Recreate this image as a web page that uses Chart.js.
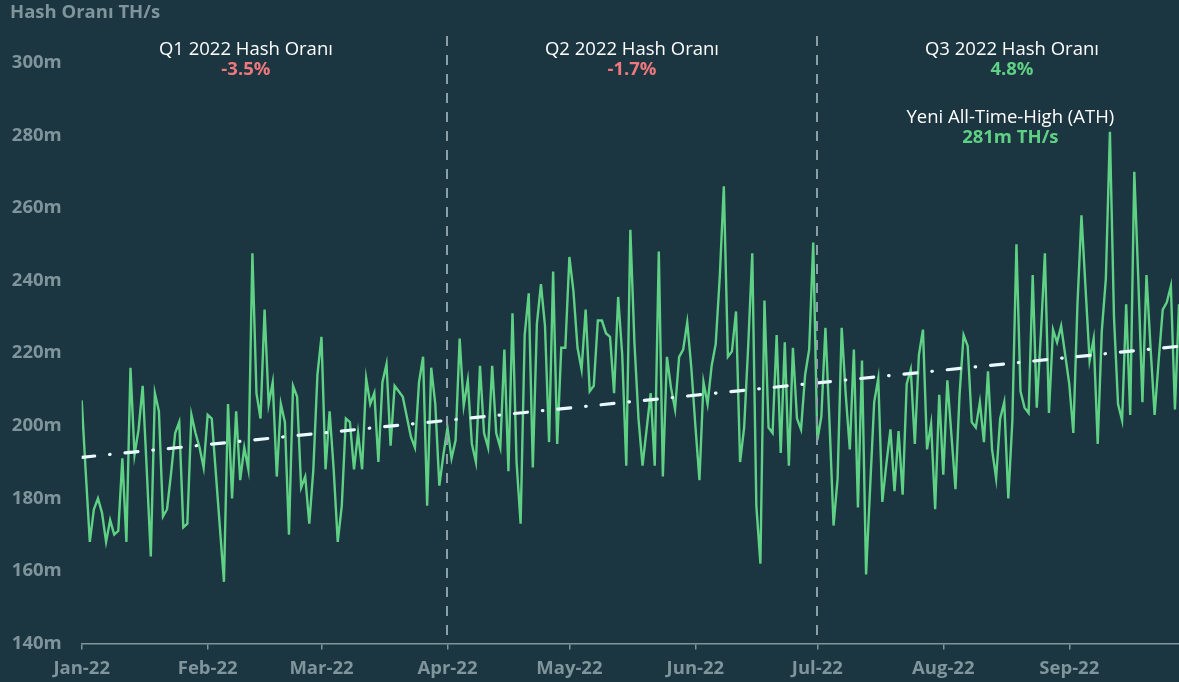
<!DOCTYPE html>
<html>
<head>
<meta charset="utf-8">
<script src="https://cdn.jsdelivr.net/npm/chart.js@4"></script>
<style>
  html, body { margin: 0; padding: 0; background: #1b3541; }
  #wrap { width: 1179px; height: 682px; }
</style>
</head>
<body>
<div id="wrap"><canvas id="chartHash" width="1179" height="682"></canvas></div>
<script>
(function () {
    'use strict';

    // ── Data (daily hash rate, m TH/s, from 1 Jan 2022) ──────────
    const hashRate = [
        207, 187, 168, 177, 180, 176, 168, 174, 170, 171,
        191, 168, 216, 192, 199, 211, 188, 164, 209, 204,
        175, 177, 187, 198, 201, 172, 173, 203, 198, 194,
        188.5, 203, 202, 187, 172, 157, 206, 180, 204, 185,
        194, 188, 247.5, 209, 202, 232, 206, 212, 186, 206,
        201, 170, 211, 208, 183, 186, 173, 188, 214, 224.5,
        188, 204, 188, 168, 178, 202, 201, 188, 198, 188,
        213, 206, 209, 190, 212, 217, 194.5, 211, 209.5, 208,
        202.5, 197, 194, 212, 219, 178, 216, 206, 183.5, 192,
        199.5, 191, 196, 224, 205.5, 212.5, 195, 190, 216.5, 198,
        194, 216.5, 198, 194, 221, 187.5, 231, 190, 173, 225,
        236.5, 188.5, 228, 239, 227.5, 195.5, 242.5, 195, 221.5, 221.5,
        246.5, 237, 221.5, 215.5, 232, 209.5, 211, 229, 229, 225.5,
        224.5, 209, 235.5, 219.5, 189, 254, 223, 202, 189, 199,
        209, 189, 248, 186, 219, 210.5, 204.5, 219, 221, 228.5,
        216, 200, 185, 212, 206, 216.5, 222.5, 241, 266, 219,
        220.5, 231.5, 190, 199.5, 222, 247.5, 178, 162, 234.5, 199.5,
        198, 225, 192.5, 223, 189, 221.5, 202, 199, 214, 221,
        250.5, 196, 202.5, 227, 201, 172.5, 185.5, 227, 208.5, 193.5,
        221, 177.5, 218, 159, 183, 206.5, 213, 179, 189.5, 199,
        182, 198.5, 181, 211.5, 215.5, 195, 219.5, 226.5, 193.5, 200.5,
        177, 208.5, 186.5, 212.5, 197.5, 182.5, 208.5, 225, 222, 201,
        199.5, 206.5, 195.5, 215, 193.5, 185.5, 202, 206.5, 180, 201.5,
        250, 209.5, 205, 203.5, 241.5, 205, 225, 247.5, 203.5, 226.5,
        223, 227.5, 219.5, 211.5, 198, 233, 258, 238, 218, 224,
        195, 226, 240.5, 281, 230, 206, 201.5, 233.5, 203, 270,
        240, 206.5, 241.5, 221.5, 203, 218, 232, 234, 238.5, 204.5,
        233.5
    ];
    const trendEnds   = [191.3, 221.9];           // trend line at first / last day
    const monthStarts = [0, 31, 59, 90, 120, 151, 181, 212, 243];
    const monthLabels = ['Jan-22', 'Feb-22', 'Mar-22', 'Apr-22', 'May-22', 'Jun-22', 'Jul-22', 'Aug-22', 'Sep-22'];
    const yTicks      = [140, 160, 180, 200, 220, 240, 260, 280, 300];
    const quarterEdges = [90, 181];
    const quarterNames = ['Q1 2022 Hash Oranı', 'Q2 2022 Hash Oranı', 'Q3 2022 Hash Oranı'];
    const quarterDelta = ['-3.5%', '-1.7%', '4.8%'];
    const athLabel = ['Yeni All-Time-High (ATH)', '281m TH/s'];

    // ── Styles ───────────────────────────────────────────────────
    const C_GREEN = '#5fd184';
    const C_RED   = '#f0787c';
    const C_AXIS  = '#7f959b';
    const C_TREND = '#e9fbff';
    const FONT    = '"Open Sans", sans-serif';

    const lastDay = hashRate.length - 1;
    const linePts = hashRate.map((v, i) => ({ x: i, y: v }));
    const trendPts = [{ x: 0, y: trendEnds[0] }, { x: lastDay, y: trendEnds[1] }];

    // label anchors in day units (text centres)
    const quarterLabelX = [40.4, 135.4, 228.9];
    const athLabelX = 228.5;

    const overlay = {
        id: 'overlay',
        afterDatasetsDraw(chart) {
            const { ctx, chartArea, scales } = chart;
            const xs = scales.x;
            ctx.save();

            // quarter separators
            ctx.strokeStyle = '#8aa0a6';
            ctx.lineWidth = 2;
            ctx.setLineDash([10, 9]);
            quarterEdges.forEach(d => {
                const px = Math.round(xs.getPixelForValue(d));
                ctx.beginPath();
                ctx.moveTo(px, chartArea.top);
                ctx.lineTo(px, chartArea.bottom);
                ctx.stroke();
            });
            ctx.setLineDash([]);

            // quarter labels
            ctx.textAlign = 'center';
            ctx.textBaseline = 'alphabetic';
            quarterNames.forEach((name, i) => {
                const cx = xs.getPixelForValue(quarterLabelX[i]);
                ctx.fillStyle = '#ffffff';
                ctx.font = '18.5px ' + FONT;
                ctx.fillText(name, cx, 55);
                ctx.fillStyle = quarterDelta[i].startsWith('-') ? C_RED : C_GREEN;
                ctx.font = 'bold 18.5px ' + FONT;
                ctx.fillText(quarterDelta[i], cx, 75);
            });

            // ATH note
            const ax = xs.getPixelForValue(athLabelX);
            ctx.fillStyle = '#ffffff';
            ctx.font = '18.5px ' + FONT;
            ctx.fillText(athLabel[0], ax, 123);
            ctx.fillStyle = C_GREEN;
            ctx.font = 'bold 18.5px ' + FONT;
            ctx.fillText(athLabel[1], ax, 143);

            // axis title
            ctx.textAlign = 'left';
            ctx.fillStyle = C_AXIS;
            ctx.font = 'bold 18.5px ' + FONT;
            ctx.fillText('Hash Oranı TH/s', 10, 18);
            ctx.restore();
        },
    };

    new Chart(document.getElementById('chartHash'), {
        type: 'line',
        data: {
            datasets: [
                {
                    data: linePts,
                    borderColor: C_GREEN,
                    borderWidth: 2.4,
                    pointRadius: 0,
                    tension: 0,
                    order: 2,
                },
                {
                    data: trendPts,
                    borderColor: C_TREND,
                    borderWidth: 3.2,
                    borderDash: [13, 15, 0.5, 15],
                    borderCapStyle: 'round',
                    pointRadius: 0,
                    order: 1,
                },
            ],
        },
        options: {
            responsive: false,
            animation: false,
            devicePixelRatio: 1,
            layout: { padding: { top: 36, left: 12, right: 0, bottom: 2 } },
            plugins: {
                legend: { display: false },
                tooltip: { enabled: false },
            },
            scales: {
                x: {
                    type: 'linear',
                    min: 0,
                    max: lastDay,
                    afterBuildTicks: s => { s.ticks = monthStarts.map(v => ({ value: v })); },
                    afterFit: s => { s.height = 36.5; s.paddingLeft = 0; s.paddingRight = 0; },
                    grid: { drawOnChartArea: false, drawTicks: true, tickLength: 6, color: C_AXIS, lineWidth: 1.5 },
                    border: { display: true, color: C_AXIS, width: 1.5 },
                    ticks: {
                        color: C_AXIS,
                        padding: 8,
                        maxRotation: 0,
                        autoSkip: false,
                        font: { family: FONT, size: 18.5, weight: 'bold' },
                        callback: v => monthLabels[monthStarts.indexOf(v)],
                    },
                },
                y: {
                    min: 140,
                    max: 307.4,
                    afterBuildTicks: s => { s.ticks = yTicks.map(v => ({ value: v })); },
                    afterFit: s => { s.width = 69.7; s.paddingTop = 0; s.paddingBottom = 0; },
                    grid: { display: false, drawTicks: false },
                    border: { display: false },
                    ticks: {
                        color: C_AXIS,
                        padding: 20,
                        font: { family: FONT, size: 18.5, weight: 'bold' },
                        callback: v => v + 'm',
                    },
                },
            },
        },
        plugins: [overlay],
    });
})();
</script>
</body>
</html>
